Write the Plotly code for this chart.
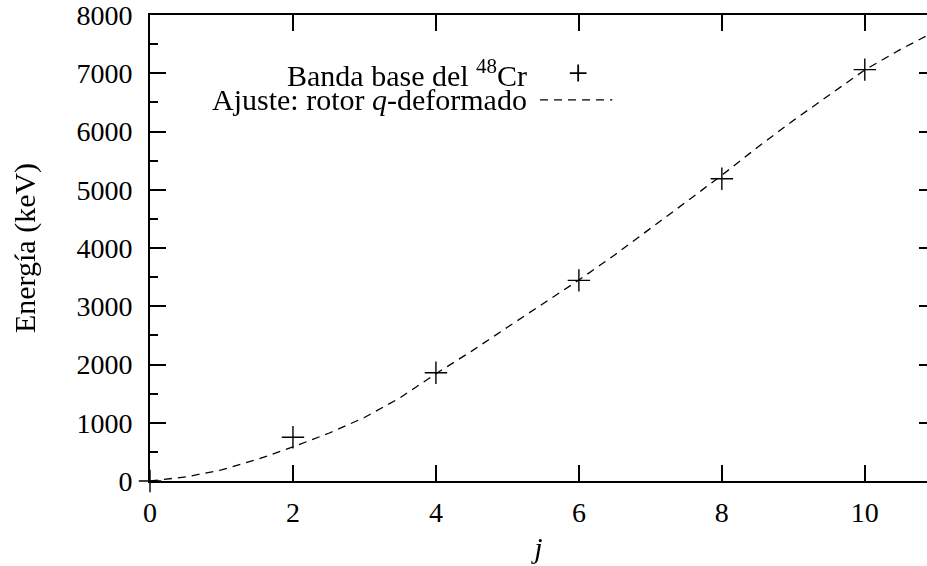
import plotly.graph_objects as go

# Experimental ground band of 48Cr
j_exp = [0, 2, 4, 6, 8, 10]
e_exp = [0, 752, 1858, 3445, 5190, 7063]

# Fit curve (q-deformed rotor)
j_fit = [0, 0.5, 1, 1.5, 2, 2.5, 3, 3.5, 4, 4.5, 5, 5.5, 6, 6.5, 7, 7.5, 8, 8.5, 9, 9.5, 10, 10.5, 10.9]
e_fit = [0, 70, 190, 370, 585, 820, 1090, 1430, 1842, 2230, 2640, 3040, 3450, 3880, 4330, 4790, 5250, 5730, 6190, 6630, 7057, 7410, 7665]

x_ticks = [0, 2, 4, 6, 8, 10]
y_ticks = [0, 1000, 2000, 3000, 4000, 5000, 6000, 7000, 8000]

FONT = "Liberation Serif"
FS_TICK = 28
FS_TEXT = 30

fig = go.Figure()
fig.add_trace(go.Scatter(x=j_fit, y=e_fit, mode="lines", line=dict(color="black", width=1.3, dash="8px,6px"),
                         showlegend=False, hoverinfo="skip"))
fig.add_trace(go.Scatter(x=j_exp, y=e_exp, mode="markers", cliponaxis=False,
                         marker=dict(symbol="cross-thin", size=16, line=dict(color="black", width=1.4), color="black"),
                         showlegend=False))
fig.add_trace(go.Scatter(x=j_exp, y=e_exp, mode="markers", yaxis="y2", opacity=0, showlegend=False, hoverinfo="skip"))

axis_common = dict(showgrid=False, zeroline=False, showline=True, linecolor="black", linewidth=2,
                   ticks="inside", tickcolor="black", tickwidth=2, ticklen=16, ticklabeloverflow="allow",
                   tickfont=dict(family=FONT, size=FS_TICK, color="black"))

fig.update_layout(
    width=927, height=566,
    margin=dict(l=150, r=0, t=12, b=85),
    paper_bgcolor="white", plot_bgcolor="white",
    xaxis=dict(range=[0, 10.87], tickvals=x_ticks, mirror="ticks", ticklabelstandoff=5,
               title=dict(text="<i>j</i>", font=dict(family=FONT, size=FS_TEXT, color="black"), standoff=10),
               **axis_common),
    yaxis=dict(range=[0, 8000], tickvals=y_ticks, ticklabelstandoff=10,
               minor=dict(tickvals=[500, 1500, 2500, 3500, 4500, 5500, 6500, 7500], ticks="inside", ticklen=8,
                          tickwidth=2, tickcolor="black"),
               title=dict(text="Energía (keV)", font=dict(family=FONT, size=FS_TEXT, color="black"), standoff=32),
               **axis_common),
    yaxis2=dict(range=[0, 8000], overlaying="y", side="right", tickvals=y_ticks, showticklabels=False,
                ticks="inside", ticklen=8, tickwidth=2, tickcolor="black", showline=False, showgrid=False,
                zeroline=False),
    showlegend=False,
)

# gnuplot-style key
fig.add_annotation(xref="paper", yref="paper", x=0.4875, y=0.876, xanchor="right", yanchor="middle",
                   text="Banda base del <sup>48</sup>Cr", showarrow=False,
                   font=dict(family=FONT, size=FS_TEXT, color="black"))
fig.add_annotation(xref="paper", yref="paper", x=0.4875, y=0.818, xanchor="right", yanchor="middle",
                   text="Ajuste: rotor <i>q</i>-deformado", showarrow=False,
                   font=dict(family=FONT, size=FS_TEXT, color="black"))
fig.add_annotation(xref="paper", yref="paper", x=0.551, y=0.876, xanchor="center", yanchor="middle",
                   text="+", showarrow=False, font=dict(family=FONT, size=36, color="black"))
fig.add_shape(type="line", xref="paper", yref="paper", x0=0.502, x1=0.595, y0=0.818, y1=0.818,
              line=dict(color="black", width=1.3, dash="8px,6px"))

fig.write_html("out.html")
